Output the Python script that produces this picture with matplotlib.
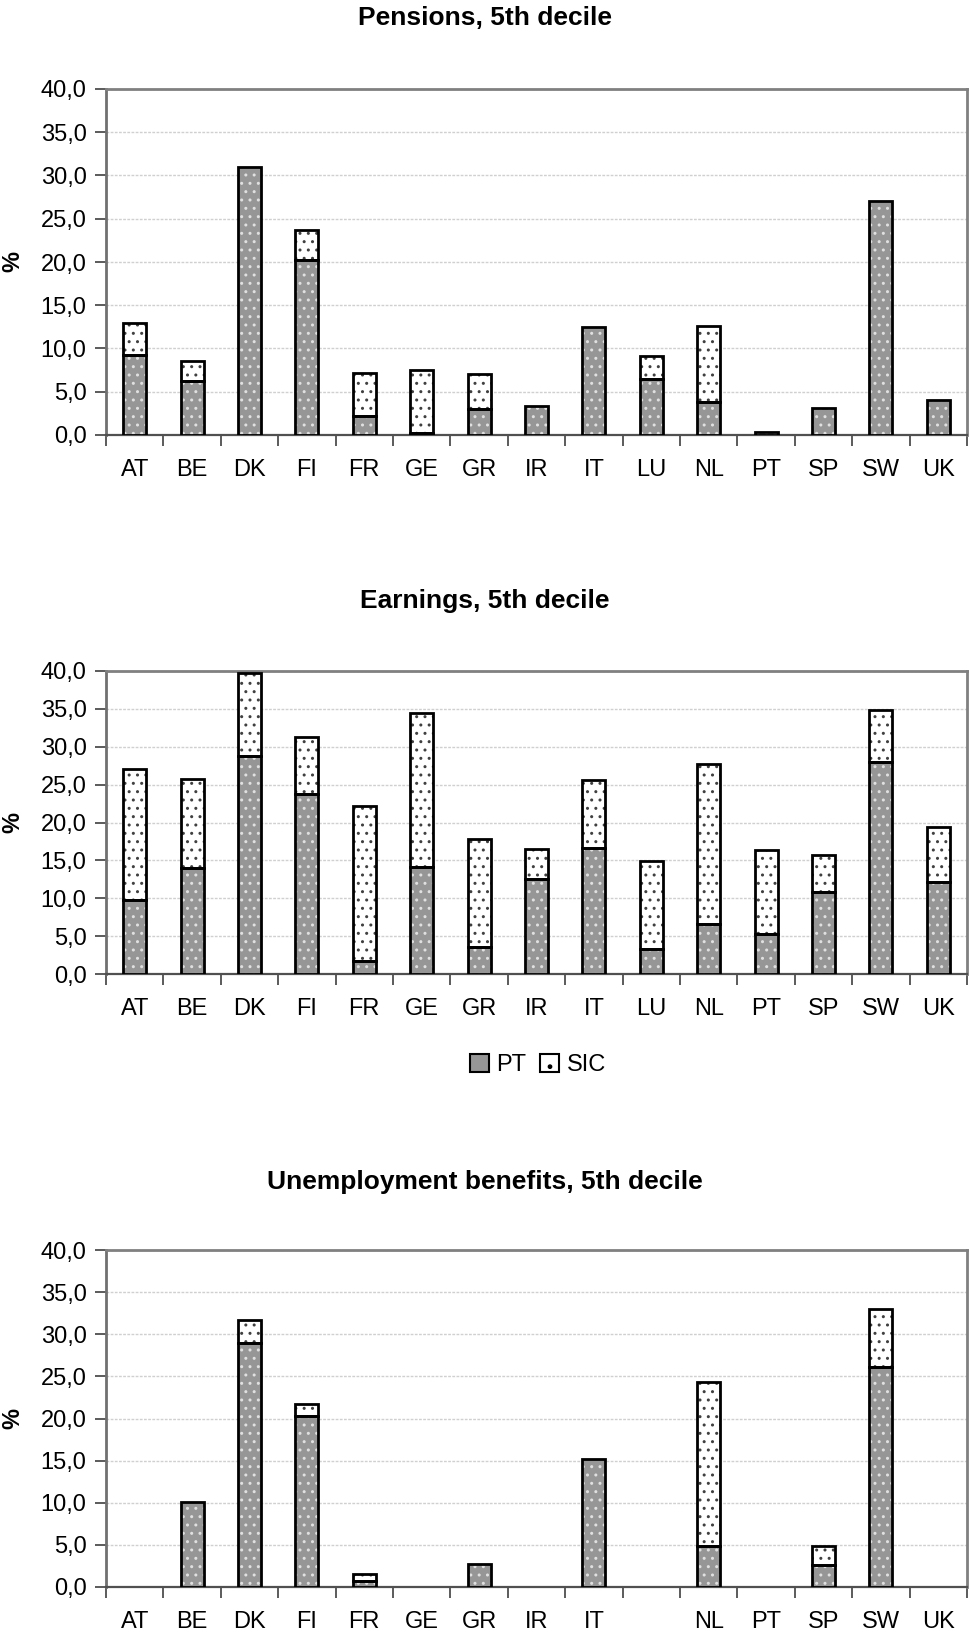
import numpy as np
import matplotlib
matplotlib.use("Agg")
import matplotlib.pyplot as plt
from matplotlib.patches import Patch

plt.rcParams['font.family'] = ['Liberation Sans', 'DejaVu Sans']
plt.rcParams['hatch.linewidth'] = 1.0

countries = ["AT", "BE", "DK", "FI", "FR", "GE", "GR", "IR", "IT", "LU",
             "NL", "PT", "SP", "SW", "UK"]
countries_unemp = ["AT", "BE", "DK", "FI", "FR", "GE", "GR", "IR", "IT", "",
                   "NL", "PT", "SP", "SW", "UK"]

# Pensions, 5th decile: personal tax (PT) and social insurance contributions (SIC)
pens_pt = [9.2, 6.2, 31.0, 20.2, 2.2, 0.2, 3.0, 3.4, 12.5, 6.5, 3.8, 0.4, 3.1, 27.0, 4.0]
pens_sic = [3.8, 2.3, 0.0, 3.5, 5.0, 7.3, 4.0, 0.0, 0.0, 2.6, 8.8, 0.0, 0.0, 0.0, 0.0]

# Earnings, 5th decile
earn_pt = [9.8, 14.0, 28.8, 23.8, 1.7, 14.1, 3.5, 12.5, 16.6, 3.3, 6.6, 5.3, 10.8, 28.0, 12.1]
earn_sic = [17.3, 11.7, 10.9, 7.5, 20.5, 20.4, 14.3, 4.0, 9.0, 11.6, 21.1, 11.1, 4.9, 6.9, 7.3]

# Unemployment benefits, 5th decile (nan = no data)
nan = np.nan
unemp_pt = [nan, 10.1, 29.0, 20.3, 0.7, nan, 2.7, nan, 15.2, nan, 4.9, nan, 2.6, 26.1, nan]
unemp_sic = [nan, 0.0, 2.7, 1.4, 0.9, nan, 0.0, nan, 0.0, nan, 19.4, nan, 2.3, 6.9, nan]

titles = ["Pensions, 5th decile", "Earnings, 5th decile", "Unemployment benefits, 5th decile"]
y_ticks = [0, 5, 10, 15, 20, 25, 30, 35, 40]
y_ticklabels = [f"{v:.1f}".replace(".", ",") for v in y_ticks]

PT_COLOR = "#969696"
PT_DOTS = "#e0e0e0"
SIC_COLOR = "#ffffff"
SIC_DOTS = "#404040"
FRAME = "#808080"
FS = 17
FS_TITLE = 19

W, H = 969, 1634
fig = plt.figure(figsize=(W / 100, H / 100), dpi=100)


def px_axes(left, top, right, bottom):
    return fig.add_axes([left / W, 1 - bottom / H, (right - left) / W, (bottom - top) / H])


def draw_stack(ax, pt, sic, labels):
    pt = np.asarray(pt, dtype=float)
    sic = np.asarray(sic, dtype=float)
    x = np.arange(len(labels))
    m = ~np.isnan(pt)
    w = 0.4
    # PT segment: grey fill with light dots, then black outline
    ax.bar(x[m], pt[m], w, color=PT_COLOR, edgecolor=PT_DOTS, hatch="..", linewidth=0, zorder=3)
    ax.bar(x[m], pt[m], w, fill=False, edgecolor="black", linewidth=2.0, zorder=4)
    ms = m & (sic > 0)
    ax.bar(x[ms], sic[ms], w, bottom=pt[ms], color=SIC_COLOR, edgecolor=SIC_DOTS,
           hatch="..", linewidth=0, zorder=3)
    ax.bar(x[ms], sic[ms], w, bottom=pt[ms], fill=False, edgecolor="black",
           linewidth=2.0, zorder=4)

    ax.set_xlim(-0.5, len(labels) - 0.5)
    ax.set_ylim(0, 40)
    ax.set_yticks(y_ticks)
    ax.set_yticklabels(y_ticklabels, fontsize=FS)
    ax.yaxis.grid(True, color="#d0d0d0", linewidth=1.0, linestyle=(0, (2, 1)), zorder=0)
    ax.set_axisbelow(True)

    # tick marks at category boundaries, labels at category centres
    ax.set_xticks(np.arange(len(labels) + 1) - 0.5)
    ax.set_xticklabels([])
    ax.set_xticks(x, minor=True)
    ax.set_xticklabels(labels, minor=True, fontsize=FS)
    ax.tick_params(axis="x", which="major", direction="out", length=8, width=1.2, color="#404040")
    ax.tick_params(axis="x", which="minor", length=0, pad=17)
    ax.tick_params(axis="y", direction="out", length=8, width=1.2, color="#404040", pad=6)

    for side in ("top", "right"):
        ax.spines[side].set_color(FRAME)
        ax.spines[side].set_linewidth(2.0)
    ax.spines["left"].set_color("#707070")
    ax.spines["left"].set_linewidth(2.0)
    ax.spines["bottom"].set_color("#505050")
    ax.spines["bottom"].set_linewidth(1.6)


layout = [
    (18, (106, 89, 967, 435), pens_pt, pens_sic, countries),
    (601, (106, 671, 967, 974), earn_pt, earn_sic, countries),
    (1182, (106, 1250, 967, 1587), unemp_pt, unemp_sic, countries_unemp),
]

for (ty, box, pt, sic, labels), title in zip(layout, titles):
    ax = px_axes(*box)
    draw_stack(ax, pt, sic, labels)
    fig.text(0.5, 1 - ty / H, title, ha="center", va="center", fontsize=FS_TITLE,
             fontweight="bold")
    yc = (box[1] + box[3]) / 2
    fig.text(13 / W, 1 - yc / H, "%", ha="center", va="center", rotation=90,
             fontsize=FS, fontweight="bold")

handles = [
    Patch(facecolor=PT_COLOR, edgecolor="black", linewidth=1.5),
    Patch(facecolor=SIC_COLOR, edgecolor="black", linewidth=1.5, hatch="."),
]
fig.legend(handles, ["PT", "SIC"], loc="center", bbox_to_anchor=(538 / W, 1 - 1065 / H),
           ncol=2, frameon=False, fontsize=FS, handlelength=0.8, handleheight=0.8,
           handletextpad=0.3, columnspacing=0.6)

fig.savefig("out.png", dpi=100)
